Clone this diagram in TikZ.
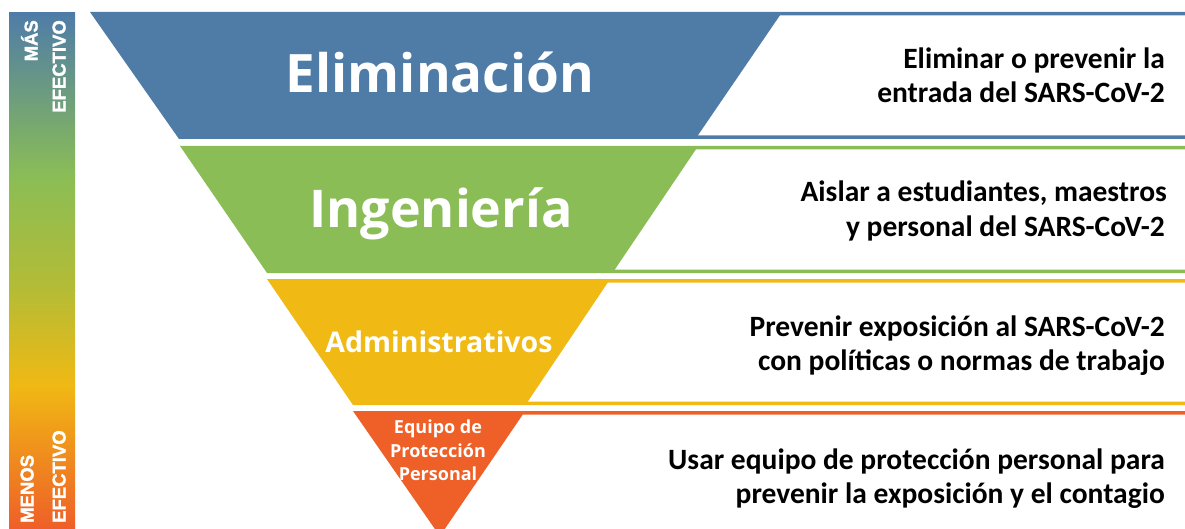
\documentclass[tikz,border=0pt]{standalone}
\usepackage{fontspec}
\newfontfamily\osans{Open Sans}
\newfontfamily\carl{Carlito}
\newfontfamily\barfont{Liberation Sans}[BoldFeatures={FakeBold=1.6}]
\definecolor{cblue}{HTML}{4F7CA7}
\definecolor{cgreen}{HTML}{8ABD56}
\definecolor{cyellow}{HTML}{F0B914}
\definecolor{corange}{HTML}{EF5F28}
\definecolor{cmid}{HTML}{B5BC35}
\tikzset{
  biglab/.style={text=white, inner sep=0pt, anchor=base, font=\osans\bfseries},
  desc/.style={text=black, inner sep=0pt, anchor=base east, font=\carl\bfseries\fontsize{29.5}{34}\selectfont},
  barlab/.style={text=white, inner sep=0pt, rotate=90, font=\barfont\bfseries\fontsize{18.5}{22}\selectfont}
}
\begin{document}
\begin{tikzpicture}[x=1pt,y=1pt]
\useasboundingbox (0,0) rectangle (1185,-529);
\fill[white] (0,0) rectangle (1185,-529);
% gradient bar
\shade[top color=cblue, bottom color=cgreen] (9,-13) rectangle (75,-176);
\shade[top color=cgreen, bottom color=cmid] (9,-175) rectangle (75,-291);
\shade[top color=cmid, bottom color=cyellow] (9,-290) rectangle (75,-386);
\shade[top color=cyellow, bottom color=corange] (9,-385) rectangle (75,-529);
\node[barlab, anchor=base east] (mas1) at (37.5,-20) {MÁS};
\node[barlab, anchor=base east] (mas2) at (65.5,-20) {EFECTIVO};
\node[barlab, anchor=base west] (men1) at (33.5,-523) {MENOS};
\node[barlab, anchor=base west] (men2) at (65.5,-523) {EFECTIVO};
% bands
\fill[cblue] (90,-12) -- (1185,-12) -- (1185,-139) -- (179,-139) -- cycle;
\fill[white] (780,-15.5) -- (1185,-15.5) -- (1185,-135.5) -- (698,-135.5) -- cycle;
\fill[cgreen] (180,-146) -- (1185,-146) -- (1185,-273) -- (267,-273) -- cycle;
\fill[white] (696,-149.5) -- (1185,-149.5) -- (1185,-269.5) -- (615,-269.5) -- cycle;
\fill[cyellow] (267,-279) -- (1185,-279) -- (1185,-405) -- (353,-405) -- cycle;
\fill[white] (608,-282.5) -- (1185,-282.5) -- (1185,-401.5) -- (528,-401.5) -- cycle;
\fill[corange] (353,-411) -- (1185,-411) -- (1185,-545) -- (446,-545) -- cycle;
\fill[white] (523,-414.5) -- (1185,-414.5) -- (1185,-545) -- (434,-545) -- cycle;
% band labels
\node[biglab, font=\osans\bfseries\fontsize{53}{60}\selectfont] (elim) at (440,-93) {Eliminación};
\node[biglab, font=\osans\bfseries\fontsize{52}{60}\selectfont] (ing) at (441,-228) {Ingeniería};
\node[biglab, font=\osans\bfseries\fontsize{28.5}{36}\selectfont] (adm) at (439,-352) {Administrativos};
\node[biglab, font=\osans\bfseries\fontsize{18}{23}\selectfont] (epp1) at (438,-433) {Equipo de};
\node[biglab, font=\osans\bfseries\fontsize{18}{23}\selectfont] (epp2) at (438,-457) {Protección};
\node[biglab, font=\osans\bfseries\fontsize{18}{23}\selectfont] (epp3) at (438,-480) {Personal};
% descriptions
\node[desc] (d1a) at (1165,-69) {Eliminar o prevenir la};
\node[desc] (d1b) at (1165,-103) {entrada del SARS-CoV-2};
\node[desc] (d2a) at (1167,-202) {Aislar a estudiantes, maestros};
\node[desc] (d2b) at (1165,-237) {y personal del SARS-CoV-2};
\node[desc] (d3a) at (1165,-336) {Prevenir exposición al SARS-CoV-2};
\node[desc] (d3b) at (1165,-370) {con políticas o normas de trabajo};
\node[desc] (d4a) at (1165,-469) {Usar equipo de protección personal para};
\node[desc] (d4b) at (1165,-503) {prevenir la exposición y el contagio};
\end{tikzpicture}
\end{document}
